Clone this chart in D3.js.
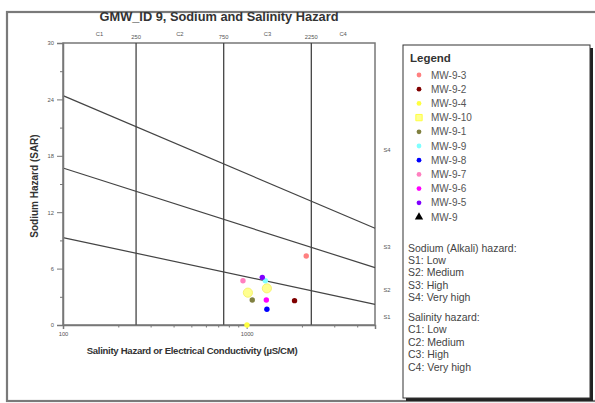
<!DOCTYPE html>
<html><head><meta charset="utf-8">
<script src="https://cdn.jsdelivr.net/npm/d3@7"></script>
<style>body{margin:0;background:#fff}svg{display:block;font-family:"Liberation Sans",Arial,sans-serif}</style>
</head><body><svg id="c" width="595" height="403"></svg>
<script>
// ---- data ----
const seriesNames = ["MW-9-3","MW-9-2","MW-9-4","MW-9-10","MW-9-1","MW-9-9","MW-9-8","MW-9-7","MW-9-6","MW-9-5","MW-9"];
const seriesColors = ["#ff8080","#800000","#ffff40","#ffff90","#808040","#80ffff","#0000ff","#ff80c0","#ff00ff","#8000ff","#000000"];
const seriesSymbols = ["circle","circle","circle","square","circle","circle","circle","circle","circle","circle","triangle"];
const seriesEC = [[2111],[1823],[1004],[1016,1289],[1073],[1264],[1289],[955],[1280],[1217],[]];
const seriesSAR = [[7.34],[2.59],[0.0],[3.44,3.9],[2.66],[4.71],[1.67],[4.71],[2.66],[5.07],[]];
const yTicks = [0,6,12,18,24,30];
const yMinor = [3,9,15,21,27];
const xTickLabels = [100,1000];
const xMinor = [200,300,400,500,600,700,800,900,2000,3000,4000];
const ecBounds = [250,750,2250];
const cLabels = ["C1","C2","C3","C4"];
const cLabelEC = [158,433,1299,3354];
const sLabels = ["S1","S2","S3","S4"];
const sLabelSAR = [0.85,3.7,8.3,18.6];
const sarLineStart = [9.3,16.7,24.4];   // SAR at EC=100
const sarLineEnd = [2.2,6.1,10.3];      // SAR at EC=5000
const sodiumNotes = ["Sodium (Alkali) hazard:","S1: Low","S2: Medium","S3: High","S4: Very high"];
const salinityNotes = ["Salinity hazard:","C1: Low","C2: Medium","C3: High","C4: Very high"];

// ---- layout ----
const svg = d3.select("#c");
const L=63,R=375,T=43,B=325;
const x = d3.scaleLog().domain([100,5000]).range([L,R]);
const y = d3.scaleLinear().domain([0,30]).range([B,T]);

// outer frame
svg.append("rect").attr("x",7).attr("y",12).attr("width",600).attr("height",389)
  .attr("fill","none").attr("stroke","#7a7a7a").attr("stroke-width",2.2);

// title
svg.append("text").attr("x",219).attr("y",21).attr("text-anchor","middle")
  .attr("font-size",12.8).attr("font-weight","bold").attr("fill","#333")
  .text("GMW_ID 9, Sodium and Salinity Hazard");

const g = svg.append("g");
// plot frame
g.append("rect").attr("x",L).attr("y",T).attr("width",R-L).attr("height",B-T)
  .attr("fill","none").attr("stroke","#777").attr("stroke-width",1.5);

// vertical class boundaries
g.selectAll(".vb").data(ecBounds).enter().append("line")
  .attr("x1",d=>x(d)).attr("x2",d=>x(d)).attr("y1",T).attr("y2",B)
  .attr("stroke","#444").attr("stroke-width",1.3);

// diagonal SAR boundaries
g.selectAll(".db").data(d3.range(sarLineStart.length)).enter().append("line")
  .attr("x1",x(100)).attr("y1",i=>y(sarLineStart[i]))
  .attr("x2",x(5000)).attr("y2",i=>y(sarLineEnd[i]))
  .attr("stroke","#444").attr("stroke-width",1.2);

// left axis
const yAxis = d3.axisLeft(y).tickValues(yTicks).tickSize(6).tickPadding(3).tickFormat(d3.format("d"));
const ya = g.append("g").attr("transform",`translate(${L},0)`).call(yAxis);
ya.select(".domain").attr("stroke","#777").attr("stroke-width",1.5);
ya.selectAll("line").attr("stroke","#777");
ya.selectAll("text").attr("font-size",5.8).attr("fill","#555");
const yAxisMinor = d3.axisLeft(y).tickValues(yMinor).tickSize(3).tickFormat("");
const ym = g.append("g").attr("transform",`translate(${L},0)`).call(yAxisMinor);
ym.select(".domain").remove(); ym.selectAll("line").attr("stroke","#777");

// bottom axis
const xAxis = d3.axisBottom(x).tickValues(xTickLabels).tickSize(4).tickPadding(3).tickFormat(d3.format("d"));
const xa = g.append("g").attr("transform",`translate(0,${B})`).call(xAxis);
xa.select(".domain").attr("stroke","#777").attr("stroke-width",1.5);
xa.selectAll("line").attr("stroke","#777");
xa.selectAll("text").attr("font-size",5.8).attr("fill","#555");
const xAxisMinor = d3.axisBottom(x).tickValues(xMinor).tickSize(2.5).tickFormat("");
const xm = g.append("g").attr("transform",`translate(0,${B})`).call(xAxisMinor);
xm.select(".domain").remove(); xm.selectAll("line").attr("stroke","#777");

// top labels
g.selectAll(".ecl").data(ecBounds).enter().append("text")
  .attr("x",d=>x(d)).attr("y",38.5).attr("text-anchor","middle")
  .attr("font-size",5.8).attr("fill","#555").text(d=>d);
g.selectAll(".cl").data(cLabels).enter().append("text")
  .attr("x",(d,i)=>x(cLabelEC[i])).attr("y",35.5).attr("text-anchor","middle")
  .attr("font-size",5.8).attr("fill","#555").text(d=>d);

// right labels
g.selectAll(".sl").data(sLabels).enter().append("text")
  .attr("x",387).attr("y",(d,i)=>y(sLabelSAR[i])+2).attr("text-anchor","middle")
  .attr("font-size",5.8).attr("fill","#555").text(d=>d);

// axis titles
svg.append("text").attr("x",192).attr("y",354).attr("text-anchor","middle")
  .attr("font-size",9.6).attr("font-weight","bold").attr("fill","#333")
  .attr("letter-spacing",-0.3)
  .text("Salinity Hazard or Electrical Conductivity (µS/CM)");
svg.append("text").attr("transform","translate(38,186) rotate(-90)").attr("text-anchor","middle")
  .attr("font-size",10).attr("font-weight","bold").attr("fill","#333")
  .text("Sodium Hazard (SAR)");

function sym(sel, type, size){
  const s = type==="square"?d3.symbolSquare:type==="triangle"?d3.symbolTriangle:d3.symbolCircle;
  return sel.attr("d", d3.symbol().type(s).size(size));
}
// points
seriesNames.forEach((n,i)=>{
  const pts = seriesEC[i].map((e,j)=>[e,seriesSAR[i][j]]);
  const big = n==="MW-9-10";
  g.selectAll(null).data(pts).enter().append("circle")
    .attr("cx",d=>x(d[0])).attr("cy",d=>y(d[1]))
    .attr("r", big?4.6:2.7)
    .attr("fill",seriesColors[i]).attr("stroke",big?"#f4f060":"none").attr("stroke-width",0.8);
});

// legend
const lg = svg.append("g");
lg.append("rect").attr("x",406).attr("y",48).attr("width",187).attr("height",353).attr("fill","#222");
lg.append("rect").attr("x",403).attr("y",45).attr("width",187).attr("height",353)
  .attr("fill","#fff").attr("stroke","#333").attr("stroke-width",1);
lg.append("text").attr("x",410).attr("y",61.5).attr("font-size",11.5).attr("font-weight","bold").attr("fill","#333").text("Legend");
seriesNames.forEach((n,i)=>{
  const yy = 75 + i*14.2;
  const p = lg.append("path").attr("transform",`translate(419,${yy})`)
    .attr("fill",seriesColors[i]);
  sym(p, seriesSymbols[i], seriesSymbols[i]==="square"?40:seriesSymbols[i]==="triangle"?30:18);
  if(seriesSymbols[i]==="square") p.attr("stroke","#ffff40").attr("stroke-width",1);
  lg.append("text").attr("x",431).attr("y",yy+3.5).attr("font-size",10).attr("fill","#555").text(n);
});
sodiumNotes.forEach((t,i)=>{
  lg.append("text").attr("x",408).attr("y",251.5+i*12.45).attr("font-size",10.5).attr("fill","#444").text(t);
});
salinityNotes.forEach((t,i)=>{
  lg.append("text").attr("x",408).attr("y",321+i*12.45).attr("font-size",10.5).attr("fill","#444").text(t);
});
</script></body></html>
